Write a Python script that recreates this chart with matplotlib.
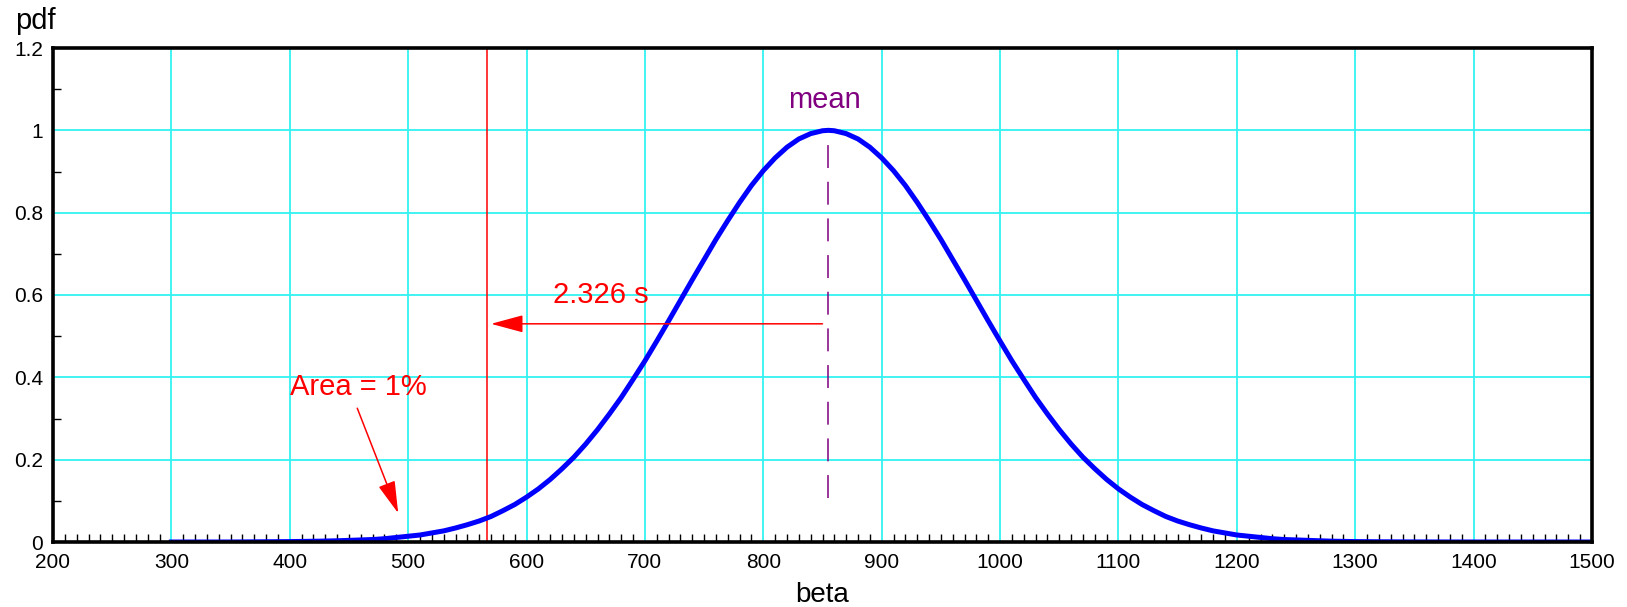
import matplotlib.pyplot as plt
import numpy as np
from matplotlib.ticker import MultipleLocator

plt.rcParams['font.family'] = ['Liberation Sans', 'DejaVu Sans']

# Curve (normalised pdf, peak = 1)
beta = [300, 350, 400, 425, 440,
        450, 460, 470, 480, 490, 500, 510, 520, 530, 540,
        550, 560, 570, 580, 590, 600, 610, 620, 630, 640,
        650, 660, 670, 680, 690, 700, 710, 720, 730, 740,
        750, 760, 770, 780, 790, 800, 810, 820, 830, 840,
        850, 855, 860, 870, 880, 890, 900, 910, 920, 930, 940,
        950, 960, 970, 980, 990, 1000, 1010, 1020, 1030, 1040,
        1050, 1060, 1070, 1080, 1090, 1100, 1110, 1120, 1130, 1140,
        1150, 1160, 1170, 1180, 1190, 1200, 1210, 1220, 1230, 1240,
        1250, 1260, 1280, 1300, 1325, 1350, 1400, 1450, 1500]
pdf = [0.000, 0.000, 0.001, 0.002, 0.003,
       0.004, 0.005, 0.006, 0.008, 0.011, 0.014, 0.017, 0.022, 0.027, 0.034,
       0.042, 0.051, 0.062, 0.076, 0.091, 0.109, 0.129, 0.152, 0.178, 0.206,
       0.238, 0.273, 0.311, 0.351, 0.395, 0.440, 0.488, 0.537, 0.587, 0.637,
       0.686, 0.735, 0.781, 0.825, 0.866, 0.902, 0.933, 0.959, 0.979, 0.992,
       0.999, 1.000, 0.999, 0.992, 0.979, 0.959, 0.933, 0.902, 0.866, 0.825, 0.781,
       0.735, 0.686, 0.637, 0.587, 0.537, 0.488, 0.440, 0.395, 0.351, 0.311,
       0.273, 0.238, 0.206, 0.178, 0.152, 0.129, 0.109, 0.091, 0.076, 0.062,
       0.051, 0.042, 0.034, 0.027, 0.022, 0.017, 0.014, 0.011, 0.008, 0.006,
       0.005, 0.004, 0.002, 0.001, 0.0005, 0.0002, 0.000, 0.000, 0.000]

mean_beta = 855
lower_beta = 567

fig = plt.figure(figsize=(16.27, 6.07), dpi=100)
ax = fig.add_axes([53 / 1627, 65 / 607, 1539 / 1627, 494 / 607])

ax.plot(beta, pdf, color='#0000ff', lw=3.6, solid_joinstyle='round', zorder=4)

# 1% lower bound and mean marker
ax.axvline(lower_beta, color='red', lw=1.1, zorder=3)
ax.plot([mean_beta, mean_beta], [0.107, 0.969], color='#800080', lw=1.1,
        linestyle=(0, (15, 9)), zorder=3)

arrow = dict(arrowstyle='-|>,head_length=1.0,head_width=0.27',
             mutation_scale=20, color='red', lw=1.1, shrinkA=0, shrinkB=0)
ax.annotate('', xy=(lower_beta + 3, 0.53), xytext=(850, 0.53),
            arrowprops=arrow, zorder=5)
ax.annotate('', xy=(491.6, 0.070), xytext=(457, 0.325),
            arrowprops=arrow, zorder=5)

ax.text(622, 0.580, '2.326 s', color='red', fontsize=21, va='baseline')
ax.text(400, 0.357, 'Area = 1%', color='red', fontsize=21, va='baseline')
ax.text(852, 1.054, 'mean', color='#800080', fontsize=21, ha='center',
        va='baseline')

ax.set_xlim(200, 1500)
ax.set_ylim(0, 1.2)
ax.xaxis.set_major_locator(MultipleLocator(100))
ax.xaxis.set_minor_locator(MultipleLocator(10))
ax.yaxis.set_minor_locator(MultipleLocator(0.1))
ax.set_yticks([0, 0.2, 0.4, 0.6, 0.8, 1, 1.2])
ax.set_yticklabels(['0', '0.2', '0.4', '0.6', '0.8', '1', '1.2'])

ax.tick_params(which='major', length=0, labelsize=15, pad=7)
ax.tick_params(which='minor', direction='in', length=6, width=1, color='black')
ax.tick_params(axis='x', which='major', pad=8)

ax.grid(True, which='major', color='#33f2f2', lw=1.3, zorder=0)
ax.set_axisbelow(True)
for sp in ax.spines.values():
    sp.set_linewidth(2.6)
    sp.set_color('black')
    sp.set_zorder(6)

ax.set_xlabel('beta', fontsize=20, labelpad=7)
fig.text(15 / 1627, 1 - 29 / 607, 'pdf', fontsize=21, va='baseline')

fig.savefig('out.png', dpi=100)
